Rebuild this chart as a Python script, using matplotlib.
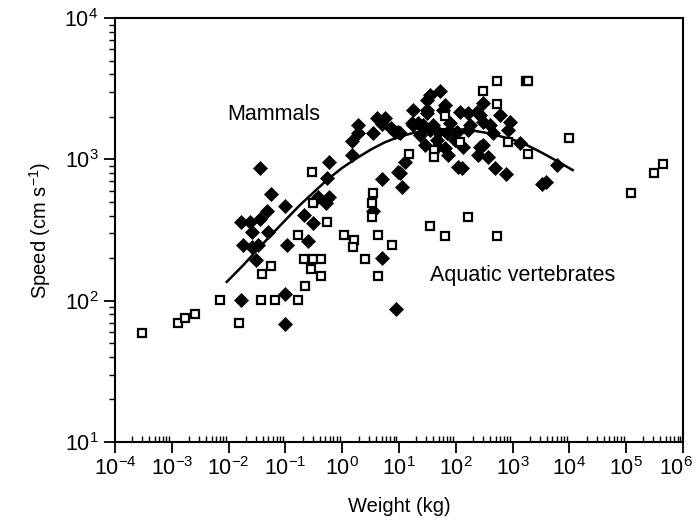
import matplotlib
matplotlib.use('Agg')
import matplotlib.pyplot as plt
import matplotlib.transforms as mtransforms
import numpy as np
from matplotlib.ticker import LogLocator, NullFormatter

plt.rcParams['font.family'] = ['Liberation Sans', 'DejaVu Sans']
plt.rcParams['mathtext.default'] = 'regular'

eixox = 'Weight (kg)'
eixoy = 'Speed (cm s$^{-1}$)'

# mammals (filled diamonds): weight kg, speed cm/s
mam_peso = [0.0357, 0.055, 0.0984, 0.0469, 0.0357, 0.0165, 0.0238, 0.026, 0.050, 0.0181,
            0.026, 0.0323, 0.0306, 0.108, 0.212, 0.306, 0.253, 0.379, 0.513, 0.593,
            0.533, 0.593, 0.0167, 0.0984, 0.0984, 3.44, 4.96, 8.96, 4.96, 1.51,
            1.51, 1.92, 1.92, 3.53, 4.02, 5.67, 5.02, 7.08, 9.72, 9.48,
            11.2, 10.4, 12.8, 17.9, 30.8, 35.2, 52.7, 30.8, 16.7, 21.9,
            28.7, 46.1, 46.1, 30.8, 60.3, 17.9, 26.8, 40.2, 79.1, 118.6,
            166, 233, 305, 267, 305, 400, 900, 840, 457, 166,
            104, 69.2, 49.2, 35.2, 10.4, 8.5, 73.8, 64.6, 267, 135.5,
            110.7, 127, 249, 373, 305, 490, 750, 1349, 5970, 3250, 3795,
            23.4, 96.8, 178, 600, 64.6]
mam_vel = [865, 569, 466, 431, 379, 359, 359, 304, 305, 248,
           241, 249, 193, 248, 406, 355, 265, 545, 495, 542,
           735, 963, 101, 111, 68, 434, 200, 88, 730, 1074,
           1339, 1751, 1545, 1530, 1954, 1954, 1766, 1668, 1571, 819,
           641, 797, 963, 2237, 2632, 2833, 3048, 2119, 1801, 1801,
           1264, 1372, 1230, 2237, 2237, 1751, 1751, 1751, 1801, 2175,
           2119, 2175, 2495, 2062, 1849, 1751, 1824, 1615, 1530, 1615,
           1571, 1530, 1571, 1615, 1530, 1571, 1074, 1199, 1230, 1230,
           888, 865, 1074, 1045, 1264, 865, 782, 1300, 913, 670, 695,
           1489, 1372, 1751, 2062, 2427]

# aquatic vertebrates (open squares)
aq_peso = [3.0e-4, 1.3e-3, 1.7e-3, 2.56e-3, 7.1e-3, 0.0154, 0.0367, 0.0649, 0.167, 0.219,
           0.0387, 0.055, 0.212, 0.303, 0.418, 0.279, 0.418, 0.167, 0.303, 0.29,
           0.547, 1.08, 1.61, 1.53, 3.53, 3.30, 3.28, 4.18, 2.52, 4.18,
           7.46, 15.2, 41.8, 41.8, 64.6, 118.6, 298.5, 531, 1750, 1900,
           538, 830, 1828, 9960, 35.2, 64.6, 166, 525, 1.2e5, 3.08e5, 4.39e5]
aq_vel = [59, 70, 75, 80, 101, 70, 101, 101, 101, 127,
          155, 177, 196, 196, 196, 167, 150, 292, 489, 808,
          358, 292, 269, 241, 578, 491, 389, 294, 196, 150,
          248, 1091, 1166, 1045, 2019, 1334, 3025, 3572, 3600, 3600,
          2478, 1334, 1083, 1425, 340, 288, 389, 288, 575, 797, 923]

# fitted curve
curva_peso = [0.0093, 0.018, 0.032, 0.056, 0.1, 0.18, 0.32, 0.56, 1, 1.8, 3.2, 5.6, 10,
              18, 32, 56, 100, 180, 320, 560, 1000, 1800, 3200, 5600, 11400]
curva_vel = [136, 178, 229, 292, 372, 475, 589, 725, 871, 1020, 1175, 1320, 1445,
             1540, 1600, 1635, 1640, 1610, 1550, 1470, 1380, 1260, 1120, 990, 840]

fig = plt.figure(figsize=(6.97, 5.24), dpi=100)
ax = fig.add_axes([0.165, 0.1565, 0.815, 0.809])

ax.plot(curva_peso, curva_vel, color='k', lw=1.8, zorder=2)
ax.plot(mam_peso, mam_vel, 'D', color='k', ms=7.3, mew=0.5, zorder=3)
ax.plot(aq_peso, aq_vel, 's', mfc='white', mec='k', ms=6.4, mew=1.6, zorder=4)

ax.set_xscale('log')
ax.set_yscale('log')
ax.set_xlim(1e-4, 1e6)
ax.set_ylim(10, 1e4)

ax.xaxis.set_major_locator(LogLocator(base=10, numticks=20))
ax.xaxis.set_minor_locator(LogLocator(base=10, subs=np.arange(2, 10), numticks=20))
ax.xaxis.set_minor_formatter(NullFormatter())
ax.yaxis.set_minor_formatter(NullFormatter())

ax.tick_params(axis='x', which='major', direction='out', length=8, width=1.3, labelsize=15.5, pad=3)
ax.tick_params(axis='x', which='minor', direction='in', length=4, width=1)
ax.tick_params(axis='y', which='major', direction='out', length=8, width=1.3, labelsize=15.5, pad=4)
ax.tick_params(axis='y', which='minor', direction='out', length=4, width=1)

for s in ax.spines.values():
    s.set_linewidth(1.5)

ax.text(0.0094, 2094, 'Mammals', fontsize=15.5, ha='left', va='center')
ax.text(35.2, 151, 'Aquatic vertebrates', fontsize=15.5, ha='left', va='center')

ax.set_xlabel(eixox, fontsize=14.5, labelpad=12)
ax.set_ylabel(eixoy, fontsize=14.5, labelpad=8)

# pull the last x label (10^6) slightly inward so it is not clipped
fig.canvas.draw()
ultimo = ax.xaxis.get_major_ticks()
for t in ultimo:
    if abs(t.get_loc() - 1e6) < 1:
        t.label1.set_transform(t.label1.get_transform() +
                               mtransforms.ScaledTranslation(-5 / 72, 0, fig.dpi_scale_trans))

fig.savefig('out.png', dpi=100)
